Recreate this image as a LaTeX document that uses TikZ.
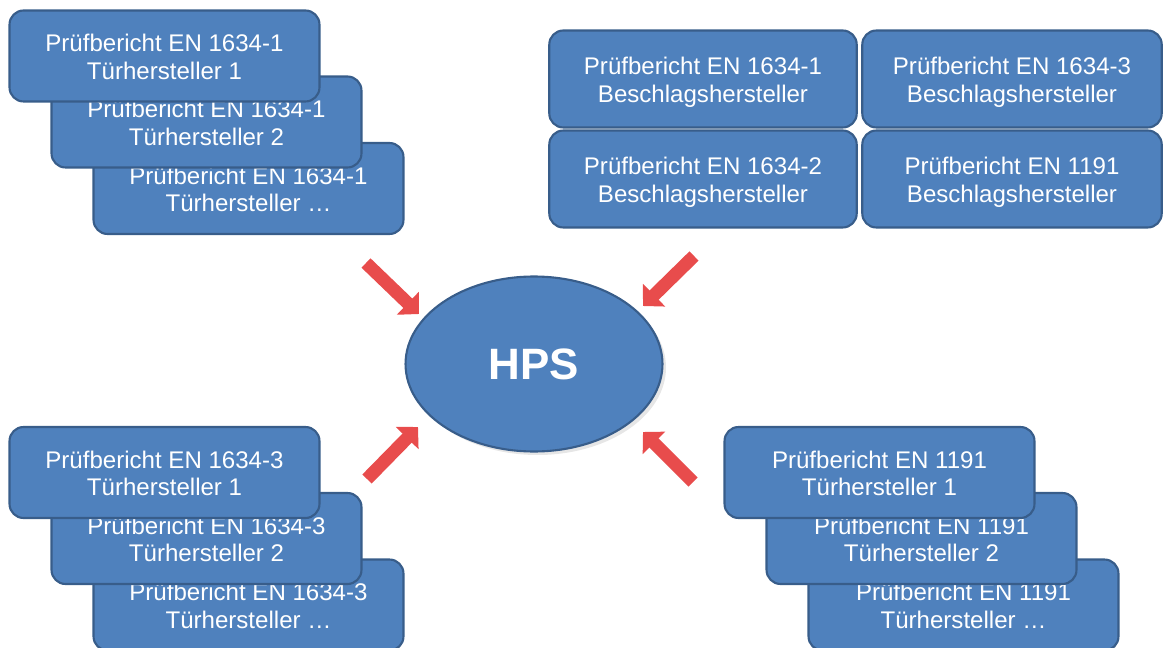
\documentclass[tikz,border=0pt]{standalone}
\usepackage{fontspec}
\setmainfont{Liberation Sans}
\usetikzlibrary{shapes.geometric,arrows.meta,shadows}
\definecolor{kasten}{RGB}{79,129,189}
\definecolor{rand}{RGB}{56,93,138}
\definecolor{pfeilrot}{RGB}{232,76,76}

\begin{document}
\begin{tikzpicture}[x=0.02cm, y=-0.02cm,
    bericht/.style={draw=rand, line width=1.2pt, fill=kasten, rounded corners=0.28cm,
        text=white, align=center, inner sep=0pt, minimum width=6.2cm, minimum height=1.82cm,
        text height=26.5pt, text depth=0pt, font=\fontsize{13.7}{15.6}\selectfont},
    pfeil/.style={draw=pfeilrot, line width=0.26cm, -{Triangle[width=0.62cm,length=0.31cm]}}]
    \useasboundingbox (0,0) rectangle (1165,648);

    % stacks of test reports, drawn back to front
    \foreach \i/\dx/\dy/\nr in {3/84/132.5/…, 2/42/66/2, 1/0/0/1} {
        \node[bericht] (tl\i) at (164.5+\dx, 56+\dy) {Prüfbericht EN 1634-1\\Türhersteller \nr};
        \node[bericht] (bl\i) at (164.5+\dx, 472.5+\dy) {Prüfbericht EN 1634-3\\Türhersteller \nr};
        \node[bericht] (br\i) at (879.5+\dx, 472.5+\dy) {Prüfbericht EN 1191\\Türhersteller \nr};
    }

    % hardware manufacturer reports
    \node[bericht, minimum width=6.15cm, minimum height=1.94cm] (bs1) at (703,79) {Prüfbericht EN 1634-1\\Beschlagshersteller};
    \node[bericht, minimum width=5.99cm, minimum height=1.94cm] (bs3) at (1012,79) {Prüfbericht EN 1634-3\\Beschlagshersteller};
    \node[bericht, minimum width=6.15cm, minimum height=1.94cm] (bs2) at (703,179) {Prüfbericht EN 1634-2\\Beschlagshersteller};
    \node[bericht, minimum width=5.99cm, minimum height=1.94cm] (bs4) at (1012,179) {Prüfbericht EN 1191\\Beschlagshersteller};

    \node[ellipse, draw=rand, line width=1.2pt, fill=kasten, minimum width=5.14cm, minimum height=3.5cm,
        drop shadow={shadow xshift=2pt, shadow yshift=-2pt, opacity=0.2},
        text=white, font=\bfseries\fontsize{25}{30}\selectfont] (hps) at (534,364) {HPS};

    % red arrows towards HPS
    \foreach \k/\ax/\ay/\bx/\by in {1/366/263/419/314, 2/694/256/643/306, 3/367/479/418/427, 4/693/482/643/432} {
        \coordinate (p\k) at (\ax,\ay);
        \coordinate (q\k) at (\bx,\by);
        \draw[pfeil] (p\k) -- (q\k);
    }

\end{tikzpicture}
\end{document}
